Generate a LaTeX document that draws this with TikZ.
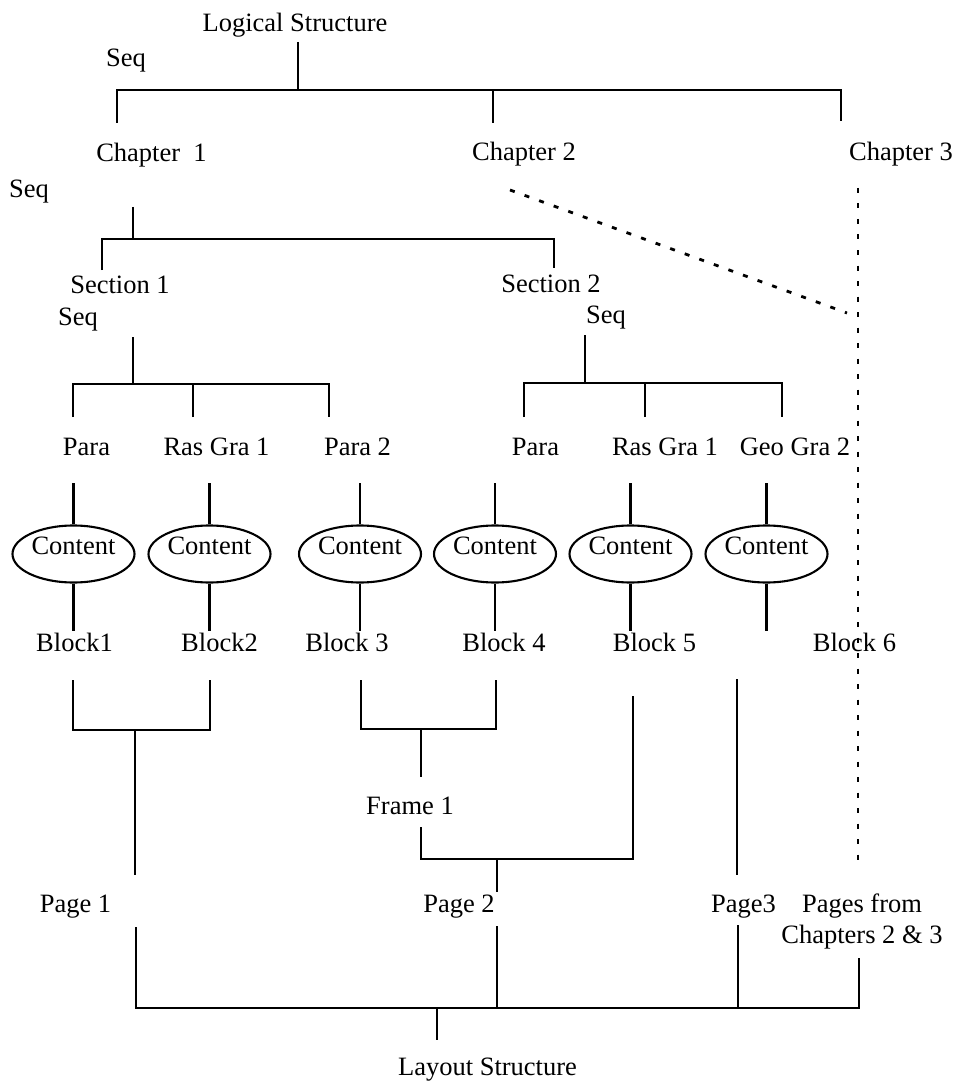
\documentclass[tikz,border=0pt]{standalone}
\usepackage{fontspec}
\setmainfont{Liberation Serif}
\usetikzlibrary{shapes.geometric}
\begin{document}
\begin{tikzpicture}[x=1pt,y=-1pt,
  lbl/.style={anchor=base,inner sep=0pt,font=\fontsize{26.5}{31}\selectfont},
  conn/.style={line width=2.1pt},
  dots/.style={line width=2.8pt,dash pattern=on 5pt off 10.5pt},
  content/.style={draw,ellipse,line width=2.1pt,minimum width=122pt,
    minimum height=57pt,inner sep=0pt,text height=0pt,text depth=0pt,
    font=\fontsize{26.5}{31}\selectfont}]
\useasboundingbox (0,0) rectangle (958,1083);

% ---- labels of the logical structure
\node[lbl] (logical) at (295,32) {Logical Structure};
\node[lbl] (seqA) at (126,67) {Seq};
\node[lbl] (ch1) at (151.5,162) {Chapter~~1};
\node[lbl] (ch2) at (524,161) {Chapter 2};
\node[lbl] (ch3) at (901,161) {Chapter 3};
\node[lbl] (seqB) at (29,198) {Seq};
\node[lbl] (sec1) at (120,293) {Section 1};
\node[lbl] (sec2) at (551,292) {Section 2};
\node[lbl] (seqC) at (78,325) {Seq};
\node[lbl] (seqD) at (606,323) {Seq};
\node[lbl] (pA) at (86.5,455) {Para};
\node[lbl] (rA) at (216.5,455) {Ras Gra 1};
\node[lbl] (pB) at (357.5,455) {Para 2};
\node[lbl] (pC) at (535.5,455) {Para};
\node[lbl] (rB) at (665,455) {Ras Gra 1};
\node[lbl] (gB) at (795,455) {Geo Gra 2};

% ---- content portions
\node[content] (k1) at (73.5,554) {Content};
\node[content] (k2) at (209.5,554) {Content};
\node[content] (k3) at (360,554) {Content};
\node[content] (k4) at (495,554) {Content};
\node[content] (k5) at (630.5,554) {Content};
\node[content] (k6) at (766.5,554) {Content};

% ---- labels of the layout structure
\node[lbl] (b1) at (74.5,651) {Block1};
\node[lbl] (b2) at (219.5,651) {Block2};
\node[lbl] (b3) at (347,651) {Block 3};
\node[lbl] (b4) at (504,651) {Block 4};
\node[lbl] (b5) at (654.5,651) {Block 5};
\node[lbl] (b6) at (854.5,651) {Block 6};
\node[lbl] (fr1) at (410,814) {Frame 1};
\node[lbl] (pg1) at (75.5,912) {Page 1};
\node[lbl] (pg2) at (459,912) {Page 2};
\node[lbl] (pg3) at (743.5,912) {Page3};
% base of a two-line node is the baseline of its last line
\node[lbl,align=center] (pgx) at (862,943) {Pages from\\Chapters 2 \& 3};
\node[lbl] (layout) at (487.5,1075) {Layout Structure};

% ---- junction points
\coordinate (t0) at (298,42);   \coordinate (t1) at (298,90);
\coordinate (ch1up) at (117,123); \coordinate (ch2up) at (493,123);
\coordinate (ch3up) at (841,121);
\coordinate (c1a) at (133,207); \coordinate (c1b) at (133,239);
\coordinate (s1up) at (102,270); \coordinate (s2up) at (554,268);
\coordinate (s1a) at (133,337); \coordinate (s1b) at (133,384);
\coordinate (pAup) at (73,417); \coordinate (rAup) at (193,417);
\coordinate (pBup) at (329,417);
\coordinate (s2a) at (585,335); \coordinate (s2b) at (585,383);
\coordinate (pCup) at (524,417); \coordinate (rBup) at (645,417);
\coordinate (gBup) at (782,417);
\coordinate (b1d) at (73,680);  \coordinate (b2d) at (210,680);
\coordinate (j12) at (135,730); \coordinate (pg1up) at (135,875);
\coordinate (b3d) at (361,680); \coordinate (b4d) at (496,680);
\coordinate (j34) at (421,729); \coordinate (fr1up) at (421,777);
\coordinate (fr1dn) at (421,827); \coordinate (jf) at (497,859);
\coordinate (b5d) at (633,696); \coordinate (pg2up) at (497,892);
\coordinate (g6d) at (737,679); \coordinate (pg3up) at (737,875);
\coordinate (d0) at (858,188);  \coordinate (d1) at (858,866);
\coordinate (dd0) at (510,190); \coordinate (dd1) at (847,313);
\coordinate (pg1dn) at (136,927); \coordinate (pg2dn) at (497,926);
\coordinate (pg3dn) at (738,925); \coordinate (pgxdn) at (859,958);
\coordinate (jb) at (437,1008); \coordinate (lsup) at (437,1040);

% ---- logical tree
\draw[conn] (t0) -- (t1);
\draw[conn] (ch1up) |- (t1) -| (ch3up);
\draw[conn] (ch2up) -- (ch2up |- t1);
\draw[conn] (c1a) -- (c1b);
\draw[conn] (s1up) |- (c1b) -| (s2up);
\draw[conn] (s1a) -- (s1b);
\draw[conn] (pAup) |- (s1b) -| (pBup);
\draw[conn] (rAup) -- (rAup |- s1b);
\draw[conn] (s2a) -- (s2b);
\draw[conn] (pCup) |- (s2b) -| (gBup);
\draw[conn] (rBup) -- (rBup |- s2b);

% ---- content links
\foreach \k in {k1,k2,k3,k4,k5,k6}{
  \draw[conn] (\k.north) -- ++(0,-41.5);
  \draw[conn] (\k.south) -- ++(0,47.5);
}

% ---- layout tree
\draw[conn] (b1d) |- (j12) -| (b2d);
\draw[conn] (j12) -- (pg1up);
\draw[conn] (b3d) |- (j34) -| (b4d);
\draw[conn] (j34) -- (fr1up);
\draw[conn] (fr1dn) |- (jf) -| (b5d);
\draw[conn] (jf) -- (pg2up);
\draw[conn] (g6d) -- (pg3up);
\draw[conn] (pg1dn) |- (jb) -| (pgxdn);
\draw[conn] (pg2dn) -- (pg2dn |- jb);
\draw[conn] (pg3dn) -- (pg3dn |- jb);
\draw[conn] (jb) -- (lsup);

% ---- chapters 2 and 3
\draw[dots] (d0) -- (d1);
\draw[dots] (dd0) -- (dd1);
\end{tikzpicture}
\end{document}
